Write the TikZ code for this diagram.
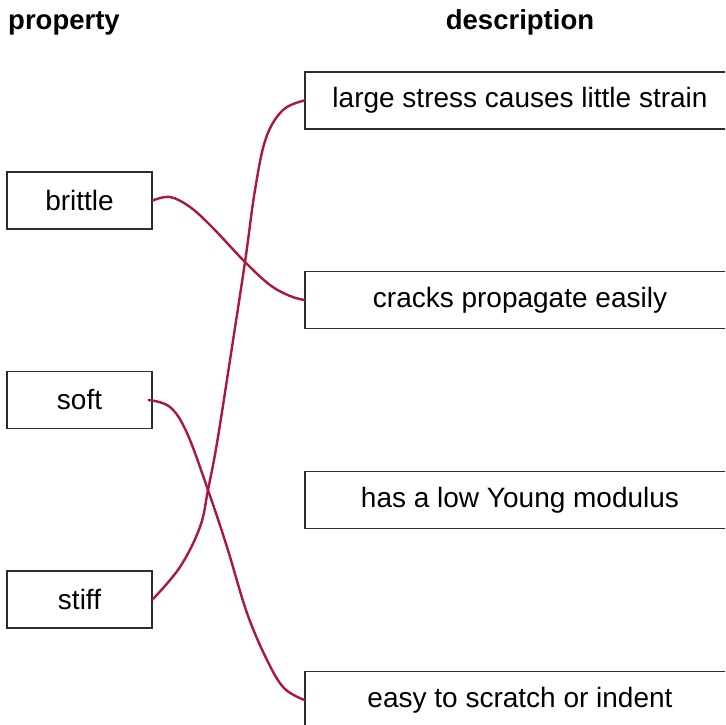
\documentclass[tikz,border=0pt]{standalone}
\usepackage{fontspec}
\setmainfont{Liberation Sans}
\definecolor{wirered}{RGB}{172,24,58}
\definecolor{boxline}{RGB}{45,45,45}
\begin{document}
\begin{tikzpicture}[x=1pt,y=-1pt,
  pbox/.style={draw=boxline,line width=1.2pt,minimum width=145pt,minimum height=57pt,inner sep=0pt,font=\fontsize{28}{32}\selectfont},
  dbox/.style={draw=boxline,line width=1.2pt,minimum width=430pt,minimum height=57pt,inner sep=0pt,font=\fontsize{28}{32}\selectfont},
  head/.style={font=\bfseries\fontsize{27.5}{32}\selectfont,inner sep=0pt,anchor=base},
  wire/.style={draw=wirered,line width=2.4pt,line cap=round,line join=round}]
\useasboundingbox (0,0) rectangle (725,725);
\clip (0,0) rectangle (725,725);
\fill[white] (0,0) rectangle (725,725);
% headers
\node[head,anchor=base west] (hprop) at (8,30) {property};
\node[head] (hdesc) at (520,30) {description};
% property boxes
\node[pbox] (brittle) at (79.5,200.5) {brittle};
\node[pbox] (soft) at (79.5,400) {soft};
\node[pbox] (stiff) at (79.5,599.5) {stiff};
% description boxes
\node[dbox] (d1) at (520,100.5) {large stress causes little strain};
\node[dbox] (d2) at (520,300) {cracks propagate easily};
\node[dbox] (d3) at (520,500) {has a low Young modulus};
\node[dbox] (d4) at (520,700) {easy to scratch or indent};
% connectors
\draw[wire] plot[smooth,tension=0.6] coordinates {(brittle.east) (170,197) (190,207) (212,227) (245,262) (270,285) (290,296) (d2.west)};
\draw[wire] plot[smooth,tension=0.6] coordinates {([xshift=-4pt]soft.east) (170,407) (187,433) (208,490) (227,547) (247,613) (267,660) (284,688) (d4.west)};
\draw[wire] plot[smooth,tension=0.6] coordinates {(stiff.east) (180,567) (200,527) (208,490) (217,443) (230,360) (245,262) (255,190) (266,138) (283,110) (d1.west)};
\end{tikzpicture}
\end{document}
